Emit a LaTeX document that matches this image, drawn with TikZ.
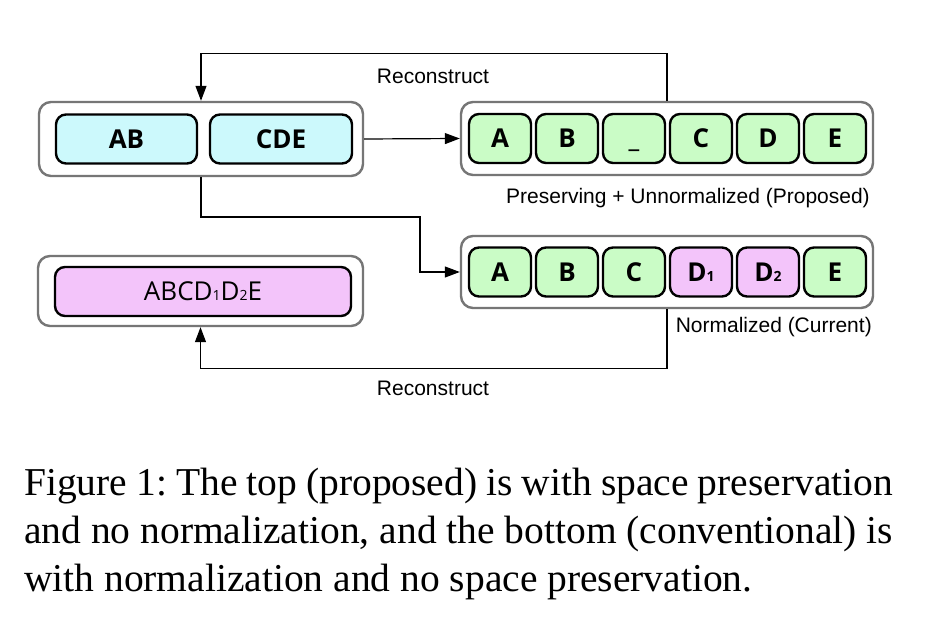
\documentclass[tikz,border=0pt]{standalone}
\usepackage{fontspec}
\setmainfont{Liberation Serif}
\newfontfamily\boxfont{Open Sans}
\newfontfamily\labfont{Liberation Sans}
\newfontfamily\capfont{Liberation Serif}
\usetikzlibrary{arrows.meta}
\definecolor{cyanfill}{RGB}{204,249,252}
\definecolor{greenfill}{RGB}{202,252,198}
\definecolor{pinkfill}{RGB}{243,196,250}
\definecolor{outergray}{RGB}{118,118,118}
\tikzset{
  outerbox/.style={draw=outergray, line width=2.4pt, fill=white, rounded corners=12pt, minimum width=#1, inner sep=0pt},
  tok/.style={draw=black, line width=2.4pt, rounded corners=10pt, inner sep=0pt, minimum height=49pt,
    font=\boxfont\bfseries\fontsize{26}{30}\selectfont, text height=19pt, text depth=0pt},
  gtok/.style={tok, fill=greenfill, minimum width=62pt},
  ptok/.style={tok, fill=pinkfill, minimum width=62pt},
  ctok/.style={tok, fill=cyanfill},
  lab/.style={font=\labfont\fontsize{21}{25}\selectfont, inner sep=0pt},
  arr/.style={draw=black, line width=1.2pt, -{Triangle[length=15pt,width=11pt]}},
  captext/.style={anchor=base west, inner sep=0pt, font=\capfont\frenchspacing\fontsize{39.5}{48}\selectfont},
}
\newcommand{\sub}[1]{{\fontsize{14}{14}\selectfont #1}}
\begin{document}
\begin{tikzpicture}[x=1pt,y=-1pt]
\useasboundingbox[fill=white] (0,0) rectangle (946,644);
% outer boxes
\node[outerbox=324pt, minimum height=74pt] (tl) at (201,139) {};
\node[outerbox=412pt, minimum height=73pt] (tr) at (667,138.5) {};
\node[outerbox=412pt, minimum height=72pt] (br) at (667,272) {};
\node[outerbox=325pt, minimum height=70pt] (bl) at (200.5,291) {};
% top-left tokens
\node[ctok, minimum width=141pt] (ab) at (126.5,139) {AB};
\node[ctok, minimum width=142pt] (cde) at (281,139) {CDE};
% top-right tokens
\node[gtok] (ta) at (500,138.5) {A};
\node[gtok] (tb) at (567,138.5) {B};
\node[gtok] (tu) at (634,138.5) {\_};
\node[gtok] (tc) at (701,138.5) {C};
\node[gtok] (td) at (768,138.5) {D};
\node[gtok] (te) at (835,138.5) {E};
% bottom-right tokens
\node[gtok] (ba) at (500,272) {A};
\node[gtok] (bb) at (567,272) {B};
\node[gtok] (bc) at (634,272) {C};
\node[ptok] (bd1) at (701,272) {D\sub{1}};
\node[ptok] (bd2) at (768,272) {D\sub{2}};
\node[gtok] (be) at (835,272) {E};
% bottom-left token
\node[tok, fill=pinkfill, minimum width=296pt, font=\boxfont\fontsize{26}{30}\selectfont] (abcd) at (203,291.5) {ABCD\sub{1}D\sub{2}E};
% labels
\node[lab, anchor=east] (lp) at (870,198) {Preserving + Unnormalized (Proposed)};
\node[lab, anchor=east] (ln) at (872,327) {Normalized (Current)};
\node[lab] (r1) at (433,76) {Reconstruct};
\node[lab] (r2) at (433,388) {Reconstruct};
% connectors
\coordinate (c1) at (420,217);
\draw[arr] (tr.north) -- ++(0,-47) -| (tl.north);
\draw[arr] (tl.east) -- (tr.west);
\draw[arr] (tl.south) |- (c1) |- (br.west);
\draw[arr] (br.south) -- ++(0,59) -| (bl.south);
% caption
\node[captext] (cap1) at (24,495) {\makebox[869pt][s]{Figure 1: The top (proposed) is with space preservation}};
\node[captext] (cap2) at (24,543) {\makebox[869pt][s]{and no normalization, and the bottom (conventional) is}};
\node[captext] (cap3) at (24,591) {with normalization and no space preservation.};
\end{tikzpicture}
\end{document}
